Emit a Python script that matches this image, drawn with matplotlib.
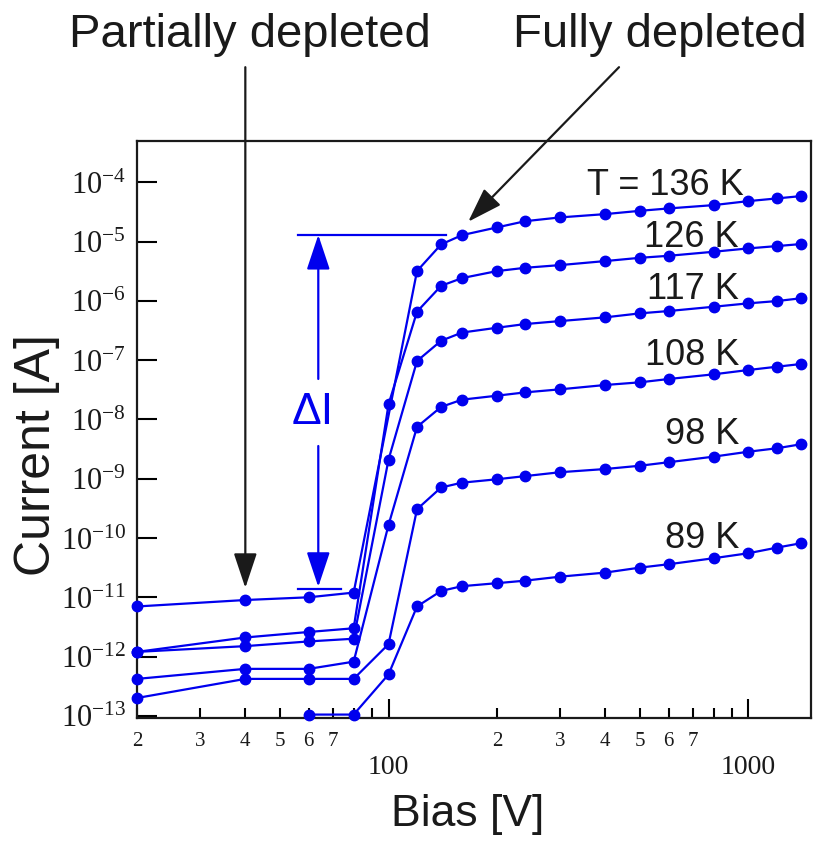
import matplotlib
matplotlib.use('Agg')
import matplotlib.pyplot as plt
from matplotlib.ticker import FixedLocator, FixedFormatter, NullLocator

plt.rcParams['font.family'] = ['Liberation Sans', 'DejaVu Sans']
plt.rcParams['mathtext.fontset'] = 'custom'
plt.rcParams['mathtext.rm'] = 'Liberation Serif'
plt.rcParams['mathtext.it'] = 'Liberation Serif:italic'
plt.rcParams['mathtext.bf'] = 'Liberation Serif:bold'
plt.rcParams['mathtext.default'] = 'rm'

# ---------------- data ----------------
V_136 = [20, 40, 60, 80, 120, 140, 160, 200, 240, 300, 400, 500, 600, 800, 1000, 1200, 1400]
I_136 = [7.0e-12, 9.0e-12, 1.0e-11, 1.2e-11, 3.2e-6, 9.0e-6, 1.29e-5, 1.74e-5, 2.22e-5,
         2.57e-5, 2.92e-5, 3.32e-5, 3.64e-5, 4.14e-5, 4.84e-5, 5.37e-5, 5.88e-5]

V_all = [20, 40, 60, 80, 100, 120, 140, 160, 200, 240, 300, 400, 500, 600, 800, 1000, 1200, 1400]
I_126 = [1.2e-12, 2.1e-12, 2.6e-12, 3.0e-12, 1.8e-8, 6.6e-7, 1.8e-6, 2.43e-6, 3.19e-6,
         3.63e-6, 4.03e-6, 4.71e-6, 5.35e-6, 5.78e-6, 6.76e-6, 7.71e-6, 8.43e-6, 9.12e-6]
I_117 = [1.2e-12, 1.5e-12, 1.8e-12, 2.0e-12, 2.1e-9, 9.7e-8, 2.13e-7, 2.93e-7, 3.53e-7,
         4.08e-7, 4.58e-7, 5.29e-7, 6.18e-7, 6.76e-7, 7.98e-7, 9.12e-7, 9.96e-7, 1.11e-6]
I_108 = [4.2e-13, 6.2e-13, 6.2e-13, 8.2e-13, 1.66e-10, 7.5e-9, 1.63e-8, 2.16e-8, 2.52e-8,
         2.87e-8, 3.23e-8, 3.82e-8, 4.24e-8, 4.82e-8, 5.78e-8, 6.84e-8, 7.77e-8, 8.63e-8]
I_98 = [2.0e-13, 4.2e-13, 4.2e-13, 4.2e-13, 1.62e-12, 3.06e-10, 7.13e-10, 8.59e-10, 9.8e-10,
        1.11e-9, 1.29e-9, 1.46e-9, 1.66e-9, 1.90e-9, 2.36e-9, 2.86e-9, 3.27e-9, 3.82e-9]
V_89 = [60, 80, 100, 120, 140, 160, 200, 240, 300, 400, 500, 600, 800, 1000, 1200, 1400]
I_89 = [1.05e-13, 1.05e-13, 5.0e-13, 7.0e-12, 1.28e-11, 1.54e-11, 1.73e-11, 1.91e-11,
        2.23e-11, 2.61e-11, 3.17e-11, 3.61e-11, 4.56e-11, 5.54e-11, 6.89e-11, 8.17e-11]

series_labels = ['T = 136 K', '126 K', '117 K', '108 K', '98 K', '89 K']

y_tick_exponents = [-13, -12, -11, -10, -9, -8, -7, -6, -5, -4]
x_major_ticks = [100, 1000]
x_major_labels = ['100', '1000']
x_minor_ticks = [20, 30, 40, 50, 60, 70, 80, 90, 200, 300, 400, 500, 600, 700, 800, 900]
x_minor_labels = ['2', '3', '4', '5', '6', '7', '', '', '2', '3', '4', '5', '6', '7', '', '']

# ---------------- layout / style ----------------
BLUE = '#0000ee'
INK = '#1a1a1a'
W, H = 814, 841
label_pos = [(973, 6.1e-5), (942, 8.0e-6), (942, 1.08e-6), (942, 8.3e-8), (942, 3.87e-9), (942, 6.8e-11)]

fig = plt.figure(figsize=(W / 100, H / 100), dpi=100)
ax = fig.add_axes([137 / W, 1 - 717.7 / H, (810.7 - 137) / W, (717.7 - 141) / H])
ax.set_xscale('log')
ax.set_yscale('log')

series = [(V_136, I_136), (V_all, I_126), (V_all, I_117), (V_all, I_108), (V_all, I_98), (V_89, I_89)]
for (v, i) in series:
    ax.plot(v, i, '-o', color=BLUE, lw=1.6, ms=7.5, mec=BLUE, mfc=BLUE, clip_on=False, zorder=3)

for lab, (lx, ly) in zip(series_labels, label_pos):
    ax.text(lx, ly, lab, ha='right', va='baseline', fontsize=26, color=INK)

ax.set_xlim(20, 1490)
ax.set_ylim(9.3e-14, 5e-4)

ax.yaxis.set_major_locator(FixedLocator([10.0 ** e for e in y_tick_exponents]))
ax.yaxis.set_major_formatter(FixedFormatter([r'$10^{%d}$' % e for e in y_tick_exponents]))
ax.yaxis.set_minor_locator(NullLocator())
ax.xaxis.set_major_locator(FixedLocator(x_major_ticks))
ax.xaxis.set_major_formatter(FixedFormatter(x_major_labels))
ax.xaxis.set_minor_locator(FixedLocator(x_minor_ticks))
ax.xaxis.set_minor_formatter(FixedFormatter(x_minor_labels))

ax.tick_params(axis='y', which='major', direction='in', length=14.5, width=1.5,
               labelsize=22, pad=8, right=False, labelcolor=INK)
ax.tick_params(axis='x', which='major', direction='in', length=14, width=1.5,
               labelsize=20, pad=27, labelfontfamily='Liberation Serif', top=False, labelcolor=INK)
ax.tick_params(axis='x', which='minor', direction='in', length=7, width=1.5,
               labelsize=15, pad=10, labelfontfamily='Liberation Serif', top=False, labelcolor=INK)
for s in ax.spines.values():
    s.set_linewidth(1.6)
    s.set_color(INK)

ax.set_xlabel('Bias [V]', fontsize=32, color=INK)
ax.xaxis.label.set_va('baseline')
ax.xaxis.set_label_coords(0.491, -0.1878)
ax.set_ylabel('Current [A]', fontsize=36, color=INK)
ax.yaxis.label.set_va('center')
ax.yaxis.set_label_coords(-0.148, 0.455)

# top annotations
fig.text(249.5 / W, 1 - 47 / H, 'Partially depleted', ha='center', va='baseline', fontsize=34, color=INK)
fig.text(660 / W, 1 - 47 / H, 'Fully depleted', ha='center', va='baseline', fontsize=34, color=INK)

astyle = '-|>,head_length=0.6,head_width=0.2'
ax.annotate('', xy=(40, 1.44e-11), xytext=(40, 8.8e-3),
            arrowprops=dict(arrowstyle=astyle, mutation_scale=36, lw=1.6, color=INK,
                            shrinkA=0, shrinkB=0), annotation_clip=False)
ax.annotate('', xy=(166.5, 2.17e-5), xytext=(437, 8.8e-3),
            arrowprops=dict(arrowstyle=astyle, mutation_scale=36, lw=1.6, color=INK,
                            shrinkA=0, shrinkB=0), annotation_clip=False)

# Delta I marker
dI_x = 63.8
ax.plot([56.1, 144.5], [1.30e-5, 1.30e-5], color=BLUE, lw=1.6)
ax.plot([56.1, 73.9], [1.39e-11, 1.39e-11], color=BLUE, lw=1.6)
ax.annotate('', xy=(dI_x, 1.30e-5), xytext=(dI_x, 4.83e-8),
            arrowprops=dict(arrowstyle=astyle, mutation_scale=36, lw=1.6, color=BLUE,
                            shrinkA=0, shrinkB=0))
ax.annotate('', xy=(dI_x, 1.5e-11), xytext=(dI_x, 3.57e-9),
            arrowprops=dict(arrowstyle=astyle, mutation_scale=36, lw=1.6, color=BLUE,
                            shrinkA=0, shrinkB=0))
ax.text(61.4, 1.29e-8, 'ΔI', color=BLUE, fontsize=32, ha='center', va='center')

fig.savefig('out.png', dpi=100)
